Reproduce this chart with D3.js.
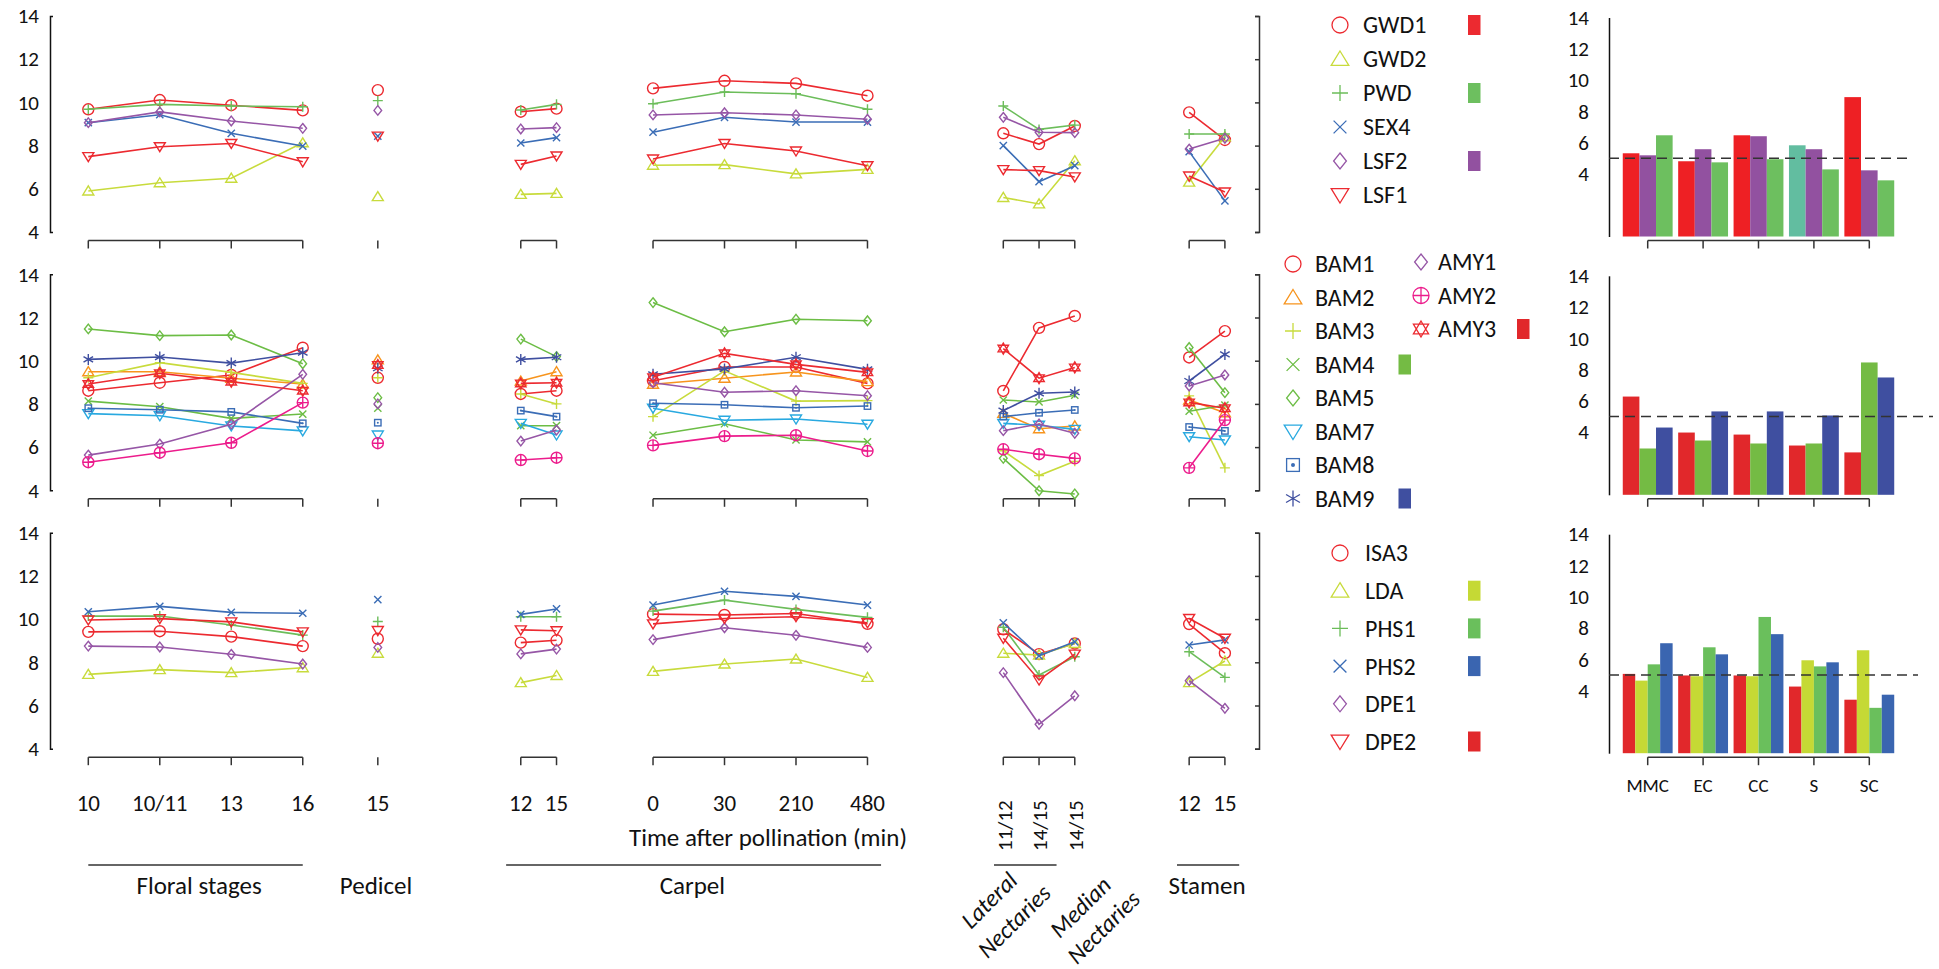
<!DOCTYPE html>
<html><head><meta charset="utf-8">
<script src="https://cdn.jsdelivr.net/npm/d3@7"></script>
<style>
body{margin:0;background:#fff}
svg{display:block}
text{font-family:Carlito,Calibri,Lato,sans-serif;fill:#111}
</style>
</head><body>
<svg id="c" width="1939" height="969"></svg>
<script>
// ---------- columns (x categories) ----------
const colLabels = ["10","10/11","13","16","15","12","15","0","30","210","480","11/12","14/15","14/15","12","15"];
const colSlots  = [0,2,4,6,8.1,12.1,13.1,15.8,17.8,19.8,21.8,25.6,26.6,27.6,30.8,31.8];
const colGroups = [[0,1,2,3],[4],[5,6],[7,8,9,10],[11,12,13],[14,15]];
const yTicks = [4,6,8,10,12,14];

// ---------- panel 1 ----------
const gwd1 = [9.68,10.11,9.87,9.63, 10.57, 9.57,9.71, 10.65,11.0,10.88,10.31, 8.57,8.07,8.91, 9.54,8.26];
const gwd2 = [5.90,6.28,6.49,8.13, 5.64, 5.74,5.79, 7.09,7.12,6.69,6.90, 5.60,5.30,7.30, 6.31,8.41];
const pwd  = [9.68,9.91,9.83,9.80, 10.08, 9.65,9.91, 9.94,10.48,10.40,9.68, 9.83,8.75,8.95, 8.54,8.54];
const sex4 = [9.06,9.43,8.57,7.98, 8.44, 8.12,8.37, 8.62,9.31,9.09,9.09, 8.00,6.33,7.07, 7.72,5.44];
const lsf2 = [9.06,9.56,9.14,8.80, 9.63, 8.77,8.83, 9.42,9.52,9.42,9.22, 9.31,8.62,8.60, 7.84,8.34];
const lsf1 = [7.49,7.95,8.10,7.25, 8.44, 7.13,7.52, 7.38,8.10,7.75,7.07, 6.89,6.84,6.55, 6.59,5.85];

// ---------- panel 2 ----------
const bam1 = [8.61,8.98,9.34,10.60, 9.21, 8.46,8.61, 9.07,9.71,9.71,8.95, 8.60,11.52,12.07, 10.15,11.37];
const bam2 = [9.49,9.49,9.19,8.92, 10.04, 9.06,9.49, 8.91,9.19,9.48,9.03, 7.56,6.85,6.98, 8.18,7.59];
const bam3 = [9.21,9.91,9.46,8.95, 9.21, 8.46,8.00, 7.41,9.53,8.13,8.15, 5.83,4.68,5.34, 8.37,5.04];
const bam4 = [8.13,7.87,7.33,7.53, 7.80, 6.99,6.99, 6.55,7.08,6.33,6.24, 8.18,8.09,8.40, 7.66,7.94];
const bam5 = [11.47,11.16,11.19,9.86, 8.29, 11.0,10.19, 12.69,11.34,11.92,11.85, 5.48,3.98,3.83, 10.61,8.52];
const bam7 = [7.55,7.45,6.98,6.75, 6.56, 7.10,6.56, 7.80,7.24,7.30,7.06, 7.10,7.01,6.82, 6.48,6.33];
const bam8 = [7.80,7.73,7.63,7.10, 7.13, 7.69,7.41, 8.03,7.96,7.82,7.90, 7.41,7.59,7.72, 6.93,6.75];
const bam9 = [10.06,10.17,9.89,10.37, 9.65, 10.06,10.16, 9.37,9.62,10.16,9.60, 7.69,8.49,8.55, 9.06,10.29];
const amy1 = [5.63,6.14,7.06,9.37, 8.00, 6.28,6.79, 8.98,8.54,8.61,8.38, 6.76,7.07,6.64, 8.83,9.34];
const amy2 = [5.30,5.74,6.20,8.06, 6.18, 5.40,5.51, 6.08,6.51,6.55,5.82, 5.90,5.67,5.48, 5.04,7.25];
const amy3 = [8.92,9.42,9.03,8.61, 9.80, 8.95,8.98, 9.23,10.34,9.83,9.46, 10.56,9.19,9.69, 8.07,7.80];

// ---------- panel 3 ----------
const isa3 = [9.41,9.44,9.19,8.75, 9.09, 8.91,9.02, 10.23,10.19,10.26,9.78, 9.53,8.38,8.87, 9.77,8.42];
const lda  = [7.44,7.66,7.52,7.75, 8.42, 7.06,7.39, 7.58,7.92,8.15,7.30, 8.42,8.34,8.87, 7.06,8.06];
const phs1 = [10.14,10.14,9.73,9.26, 9.89, 10.11,10.11, 10.37,10.88,10.45,10.08, 9.62,7.41,8.26, 8.49,7.30];
const phs2 = [10.34,10.59,10.31,10.27, 10.90, 10.22,10.47, 10.65,11.29,11.05,10.65, 9.83,8.30,8.95, 8.80,9.04];
const dpe1 = [8.75,8.71,8.37,7.92, 8.69, 8.39,8.61, 9.05,9.60,9.25,8.69, 7.52,5.13,6.45, 7.15,5.87];
const dpe2 = [9.96,10.02,9.87,9.41, 9.47, 9.50,9.46, 9.78,10.03,10.11,9.83, 9.11,7.18,8.38, 10.03,9.11];

// ---------- bar charts (cell types) ----------
const barCats = ["MMC","EC","CC","S","SC"];
const barTicks = [4,6,8,10,12,14];
const barRefLine = 5;
const bar1GWD1 = [5.32,4.81,6.47,5.83,8.91];
const bar1LSF2 = [5.19,5.58,6.41,5.58,4.23];
const bar1PWD  = [6.47,4.74,4.94,4.29,3.59];
const bar2AMY3 = [6.28,3.98,3.85,3.15,2.71];
const bar2BAM4 = [2.96,3.47,3.28,3.28,8.46];
const bar2BAM9 = [4.30,5.33,5.33,5.07,7.50];
const bar3DPE2 = [5.07,4.97,4.97,4.26,3.42];
const bar3LDA  = [4.64,4.92,4.92,5.94,6.58];
const bar3PHS1 = [5.68,6.77,8.71,5.55,2.90];
const bar3PHS2 = [7.03,6.32,7.61,5.81,3.74];

// ---------- styles ----------
const RED="#ec2a30", YEL="#c8db3c", GRN="#6cbd5a", BLU="#3b6db6", PUR="#9656a6",
      ORA="#f7941d", GR2="#6cbd45", LBL="#29a9e0", NAV="#3f4fa0", MAG="#ec1c8c";

const panels = [
  {top:16, series:[
    {name:"GWD1",v:gwd1,c:RED,m:"circle",sw:RED},
    {name:"GWD2",v:gwd2,c:YEL,m:"tri"},
    {name:"PWD", v:pwd, c:GRN,m:"plus",sw:"#6dbf5f"},
    {name:"SEX4",v:sex4,c:BLU,m:"cross"},
    {name:"LSF2",v:lsf2,c:PUR,m:"diamond",sw:"#9251a0"},
    {name:"LSF1",v:lsf1,c:RED,m:"triDown"}],
   legend:{x:1340,tx:1363,y0:25,dy:34,swx:1468},
   bars:[{v:bar1GWD1,c:["#ee2024","#ee2024","#ee2024","#62bda0","#ee2024"]},{v:bar1LSF2,c:"#9251a0"},{v:bar1PWD,c:"#6dbf5f"}],
   dashEnd:1910},
  {top:274.3, series:[
    {name:"BAM1",v:bam1,c:RED,m:"circle"},
    {name:"BAM2",v:bam2,c:ORA,m:"tri"},
    {name:"BAM3",v:bam3,c:YEL,m:"plus"},
    {name:"BAM4",v:bam4,c:GR2,m:"cross",sw:"#74bb44"},
    {name:"BAM5",v:bam5,c:GR2,m:"diamond"},
    {name:"BAM7",v:bam7,c:LBL,m:"triDown"},
    {name:"BAM8",v:bam8,c:BLU,m:"square"},
    {name:"BAM9",v:bam9,c:NAV,m:"aster",sw:NAV},
    {name:"AMY1",v:amy1,c:PUR,m:"diamond",col:2},
    {name:"AMY2",v:amy2,c:MAG,m:"circlePlus",col:2},
    {name:"AMY3",v:amy3,c:RED,m:"hexa",col:2,sw:"#e1282b"}],
   legend:{x:1293,tx:1315,y0:264,dy:33.5,swx:1398.5,x2:1421,tx2:1438,y02:262,swx2:1517},
   bars:[{v:bar2AMY3,c:"#e1282b"},{v:bar2BAM4,c:"#74bb44"},{v:bar2BAM9,c:NAV}],
   dashEnd:1933},
  {top:532.7, series:[
    {name:"ISA3",v:isa3,c:RED,m:"circle"},
    {name:"LDA", v:lda, c:YEL,m:"tri",sw:"#c5d935"},
    {name:"PHS1",v:phs1,c:GRN,m:"plus",sw:"#6abf5c"},
    {name:"PHS2",v:phs2,c:BLU,m:"cross",sw:"#3a65b0"},
    {name:"DPE1",v:dpe1,c:PUR,m:"diamond"},
    {name:"DPE2",v:dpe2,c:RED,m:"triDown",sw:"#e1282b"}],
   legend:{x:1340,tx:1365,y0:553,dy:37.7,swx:1468},
   bars:[{v:bar3DPE2,c:"#e1282b"},{v:bar3LDA,c:"#c5d935"},{v:bar3PHS1,c:"#6abf5c"},{v:bar3PHS2,c:"#3a65b0"}],
   dashEnd:1918}
];

const svg = d3.select("#c");
svg.append("rect").attr("width",1939).attr("height",969).attr("fill","#fff");

const x = d3.scaleLinear().domain([0,31.8]).range([88.3,1224.9]);
const PH = 216;

function drawMarker(g, type, color, s, lw){
  const st = (sel)=>sel.attr("fill","none").attr("stroke",color).attr("stroke-width",lw);
  switch(type){
    case "circle": st(g.append("circle").attr("r",s)); break;
    case "tri": st(g.append("path").attr("d",`M0,${-s}L${s*1.1},${s*0.8}L${-s*1.1},${s*0.8}Z`)); break;
    case "triDown": st(g.append("path").attr("d",`M0,${s}L${s*1.1},${-s*0.8}L${-s*1.1},${-s*0.8}Z`)); break;
    case "plus": st(g.append("path").attr("d",`M${-s},0H${s}M0,${-s}V${s}`)); break;
    case "cross": {const k=s*0.8; st(g.append("path").attr("d",`M${-k},${-k}L${k},${k}M${-k},${k}L${k},${-k}`)); break;}
    case "diamond": st(g.append("path").attr("d",`M0,${-s}L${s*0.8},0L0,${s}L${-s*0.8},0Z`)); break;
    case "square": {const k=s*0.8; st(g.append("rect").attr("x",-k).attr("y",-k).attr("width",2*k).attr("height",2*k));
      g.append("circle").attr("r",s*0.25).attr("fill",color); break;}
    case "aster": {const a=s*0.87,b=s*0.5; st(g.append("path").attr("d",`M0,${-s}V${s}M${-a},${-b}L${a},${b}M${-a},${b}L${a},${-b}`)); break;}
    case "circlePlus": st(g.append("circle").attr("r",s)); st(g.append("path").attr("d",`M${-s},0H${s}M0,${-s}V${s}`)); break;
    case "hexa": st(g.append("path").attr("d",`M0,${-s}L${s*0.95},${s*0.6}L${-s*0.95},${s*0.6}Z M0,${s}L${s*0.95},${-s*0.6}L${-s*0.95},${-s*0.6}Z`)); break;
  }
}
const mSize = {circle:5.5,tri:5,triDown:5,plus:5,cross:4.5,diamond:4.8,square:4,aster:5.5,circlePlus:5.5,hexa:5.5};

panels.forEach((p,pi)=>{
  const top=p.top, bot=top+PH;
  const y = d3.scaleLinear().domain([4,14]).range([bot,top]);
  const g = svg.append("g");

  // left axis
  const la = g.append("g").attr("transform","translate(50,0)")
    .call(d3.axisLeft(y).tickValues(yTicks).tickSizeInner(0).tickSizeOuter(-3).tickPadding(11).tickFormat(d3.format("d")));
  la.select(".domain").attr("stroke","#111").attr("stroke-width",1.5);
  la.selectAll("text").attr("font-size",21).attr("fill","#111");
  // right axis
  const ra = g.append("g").attr("transform","translate(1259,0)")
    .call(d3.axisRight(y).tickValues(yTicks).tickSizeInner(-4).tickSizeOuter(-4).tickFormat(""));
  ra.selectAll("path,line").attr("stroke","#333").attr("stroke-width",1.5);

  // brackets below the panel
  const by = bot+8.5;
  colGroups.forEach(grp=>{
    if(grp.length>1) g.append("line").attr("x1",x(colSlots[grp[0]])).attr("x2",x(colSlots[grp[grp.length-1]]))
      .attr("y1",by).attr("y2",by).attr("stroke","#333").attr("stroke-width",1.5);
    grp.forEach(ci=>g.append("line").attr("x1",x(colSlots[ci])).attr("x2",x(colSlots[ci]))
      .attr("y1",by).attr("y2",by+8).attr("stroke","#333").attr("stroke-width",1.5));
  });

  // series
  p.series.forEach(s=>{
    const lg = g.append("g");
    const ln = d3.line().x(i=>x(colSlots[i])).y(i=>y(s.v[i]));
    colGroups.forEach(grp=>{
      if(grp.length>1) lg.append("path").attr("d",ln(grp)).attr("fill","none").attr("stroke",s.c).attr("stroke-width",1.6);
    });
    s.v.forEach((val,i)=>{
      const mg = lg.append("g").attr("transform",`translate(${x(colSlots[i])},${y(val)})`);
      drawMarker(mg,s.m,s.c,mSize[s.m],1.4);
    });
  });

  // legend
  const L=p.legend;
  let r1=0,r2=0;
  p.series.forEach(s=>{
    let cx,tx,cy,swx;
    if(s.col===2){cx=L.x2;tx=L.tx2;cy=L.y02+r2*L.dy;swx=L.swx2;r2++;}
    else {cx=L.x;tx=L.tx;cy=L.y0+r1*L.dy;swx=L.swx;r1++;}
    const mg=g.append("g").attr("transform",`translate(${cx},${cy})`);
    drawMarker(mg,s.m,s.c,8,1.3);
    g.append("text").attr("x",tx).attr("y",cy).attr("dy","0.35em").attr("font-size",24).text(s.name);
    if(s.sw) g.append("rect").attr("x",swx).attr("y",cy-10).attr("width",12.5).attr("height",20).attr("fill",s.sw);
  });

  // bar chart
  const bTop = top+1.5, bBot=bTop+219;
  const yb = d3.scaleLinear().domain([0,14]).range([bBot,bTop]);
  const xb = d3.scaleBand().domain(barCats).range([1620,1897]).paddingInner(0.1).paddingOuter(0.05);
  const xs = d3.scaleBand().domain(d3.range(p.bars.length)).range([0,xb.bandwidth()]);
  const ba = g.append("g").attr("transform","translate(1609,0)")
    .call(d3.axisLeft(yb).tickValues(barTicks).tickSize(0).tickPadding(20).tickFormat(d3.format("d")));
  ba.select(".domain").attr("stroke","#111").attr("stroke-width",1.5);
  ba.selectAll("text").attr("font-size",21).attr("fill","#111");
  p.bars.forEach((b,bi)=>{
    g.selectAll(null).data(b.v).join("rect")
      .attr("x",(d,i)=>xb(barCats[i])+xs(bi))
      .attr("width",xs.bandwidth())
      .attr("y",d=>yb(d)).attr("height",d=>yb(0)-yb(d))
      .attr("fill",(d,i)=>Array.isArray(b.c)?b.c[i]:b.c);
  });
  g.append("line").attr("x1",1609).attr("x2",p.dashEnd).attr("y1",yb(barRefLine)).attr("y2",yb(barRefLine))
    .attr("stroke","#333").attr("stroke-width",1.5).attr("stroke-dasharray","10,6");
  // bracket under bars
  const bc = barCats.map(c=>xb(c)+xb.bandwidth()/2);
  g.append("line").attr("x1",bc[0]).attr("x2",bc[bc.length-1]).attr("y1",by).attr("y2",by).attr("stroke","#333").attr("stroke-width",1.5);
  bc.forEach(cx=>g.append("line").attr("x1",cx).attr("x2",cx).attr("y1",by).attr("y2",by+8).attr("stroke","#333").attr("stroke-width",1.5));

  if(pi===2){
    g.selectAll(null).data(barCats).join("text")
      .attr("x",c=>xb(c)+xb.bandwidth()/2).attr("y",785).attr("dy","0.35em")
      .attr("text-anchor","middle").attr("font-size",19).text(c=>c);
  }
});

// ---------- bottom x labels ----------
const ax = svg.append("g");
colLabels.forEach((lab,i)=>{
  if(i>=11 && i<=13){
    ax.append("text").attr("transform",`translate(${x(colSlots[i])+1},851) rotate(-90)`)
      .attr("dy","0.35em").attr("font-family","DejaVu Sans").attr("font-size",21).text(lab);
  } else {
    ax.append("text").attr("x",x(colSlots[i])).attr("y",803).attr("dy","0.35em")
      .attr("text-anchor","middle").attr("font-size",23).text(lab);
  }
});
ax.append("text").attr("x",768).attr("y",837).attr("dy","0.35em").attr("text-anchor","middle").attr("font-size",25).text("Time after pollination (min)");

const groupLines = [[0,6],[11.69,22.18],[25.34,27.09],[30.46,32.2]];
groupLines.forEach(gl=>ax.append("line").attr("x1",x(gl[0])).attr("x2",x(gl[1])).attr("y1",865).attr("y2",865).attr("stroke","#333").attr("stroke-width",1.5));
const groupNames = [["Floral stages",3.1],["Pedicel",8.05],["Carpel",16.9],["Stamen",31.3]];
groupNames.forEach(gn=>ax.append("text").attr("x",x(gn[1])).attr("y",885).attr("dy","0.35em").attr("text-anchor","middle").attr("font-size",25).text(gn[0]));
const italics = [["Lateral",25.2,900],["Nectaries",25.9,921],["Median",27.75,907],["Nectaries",28.4,927]];
italics.forEach(t=>ax.append("text").attr("transform",`translate(${x(t[1])},${t[2]}) rotate(-45)`)
  .attr("dy","0.35em").attr("text-anchor","middle").attr("font-style","italic").attr("font-size",24).text(t[0]));
</script>
</body></html>
